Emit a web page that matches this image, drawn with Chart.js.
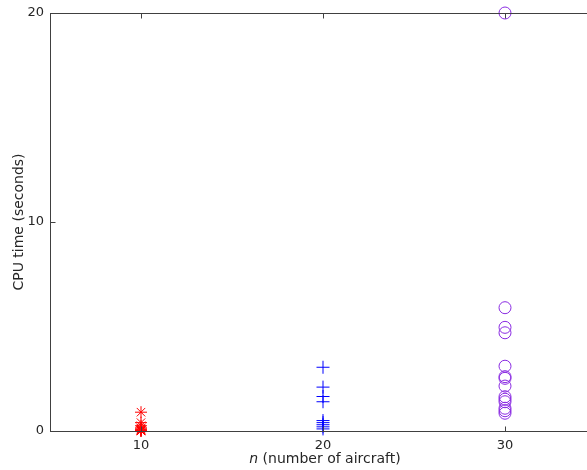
<!DOCTYPE html>
<html>
<head>
<meta charset="utf-8">
<script src="https://cdn.jsdelivr.net/npm/chart.js@4.4.1/dist/chart.umd.min.js"></script>
<style>
html,body{margin:0;padding:0;background:#fff;overflow:hidden;}
#wrap{width:587px;height:470px;position:relative;overflow:hidden;}
</style>
</head>
<body>
<div id="wrap"><canvas id="c" width="596" height="470"></canvas></div>
<script>
// ---- data ----
const nValues = [10, 20, 30];
const xTicks = [10, 20, 30];
const yTicks = [0, 10, 20];
const times10 = [0.9, 0.4, 0.25, 0.15, 0.1, 0.06, 0.04, 0.02, 0.01, 0.0];
const times20 = [3.05, 2.1, 1.65, 1.4, 0.5, 0.4, 0.3, 0.2, 0.1];
const times30 = [20, 5.9, 4.96, 4.7, 3.1, 2.6, 2.52, 2.15, 1.64, 1.52, 1.4, 1.09, 0.97, 0.85];
const xLabel = ' (number of aircraft)';
const xLabelItalic = 'n';
const yLabel = 'CPU time (seconds)';

const toPts = (n, arr) => arr.map(v => ({x: n, y: v}));
const axisColor = '#404040';
const textColor = '#262626';
const font = 'DejaVu Sans';

const boxPlugin = {
  id: 'box',
  afterDatasetsDraw(chart) {
    const {ctx, chartArea: a, scales} = chart;
    ctx.save();
    ctx.strokeStyle = axisColor;
    ctx.lineWidth = 1;
    const L = a.left + 0.5, T = a.top + 0.5, B = Math.round(a.bottom) + 0.5, R = a.right - 0.5;
    ctx.strokeRect(L, T, R - L, B - T);
    // inward ticks
    ctx.beginPath();
    xTicks.forEach(t => {
      const px = Math.round(scales.x.getPixelForValue(t)) + 0.5;
      ctx.moveTo(px, B); ctx.lineTo(px, B - 5);
      ctx.moveTo(px, T); ctx.lineTo(px, T + 5);
    });
    yTicks.forEach(t => {
      const py = Math.round(scales.y.getPixelForValue(t)) + 0.5;
      ctx.moveTo(L, py); ctx.lineTo(L + 5, py);
    });
    ctx.stroke();
    // axis titles
    ctx.fillStyle = textColor;
    ctx.textBaseline = 'middle';
    ctx.font = 'italic 14px "' + font + '"';
    const wI = ctx.measureText(xLabelItalic).width;
    ctx.font = '14px "' + font + '"';
    const wR = ctx.measureText(xLabel).width;
    const cx = 325, cy = 459;
    let sx = cx - (wI + wR) / 2;
    ctx.font = 'italic 14px "' + font + '"';
    ctx.textAlign = 'left';
    ctx.fillText(xLabelItalic, sx, cy);
    ctx.font = '14px "' + font + '"';
    ctx.fillText(xLabel, sx + wI, cy);
    ctx.translate(19, 222);
    ctx.rotate(-Math.PI / 2);
    ctx.textAlign = 'center';
    ctx.fillText(yLabel, 0, 0);
    ctx.restore();
  }
};

new Chart(document.getElementById('c'), {
  type: 'scatter',
  data: {
    datasets: [
      {data: toPts(nValues[0], times10), pointStyle: 'star', radius: 6, borderColor: '#ff0000', backgroundColor: 'rgba(0,0,0,0)', borderWidth: 1, clip: false},
      {data: toPts(nValues[1], times20), pointStyle: 'cross', radius: 6.5, borderColor: '#0000ff', backgroundColor: 'rgba(0,0,0,0)', borderWidth: 1, clip: false},
      {data: toPts(nValues[2], times30), pointStyle: 'circle', radius: 6, borderColor: '#8a2be2', backgroundColor: 'rgba(0,0,0,0)', borderWidth: 1, clip: false}
    ]
  },
  options: {
    responsive: false,
    animation: false,
    events: [],
    layout: {autoPadding: false, padding: {top: 13, right: 0, left: 0, bottom: 0}},
    plugins: {legend: {display: false}, tooltip: {enabled: false}},
    elements: {point: {hoverRadius: 6}},
    scales: {
      x: {
        type: 'linear', min: 5, max: 35,
        afterBuildTicks: s => { s.ticks = xTicks.map(v => ({value: v})); },
        afterFit: s => { s.height = 39; s.paddingLeft = 0; s.paddingRight = 0; },
        grid: {display: false, drawTicks: false},
        border: {display: false},
        ticks: {color: textColor, font: {family: font, size: 13}, padding: 7, maxRotation: 0}
      },
      y: {
        type: 'linear', min: 0, max: 20,
        afterBuildTicks: s => { s.ticks = yTicks.map(v => ({value: v})); },
        afterFit: s => { s.width = 50; s.paddingTop = 0; s.paddingBottom = 0; },
        grid: {display: false, drawTicks: false},
        border: {display: false},
        ticks: {color: textColor, font: {family: font, size: 13}, padding: 6}
      }
    }
  },
  plugins: [boxPlugin]
});
</script>
</body>
</html>
